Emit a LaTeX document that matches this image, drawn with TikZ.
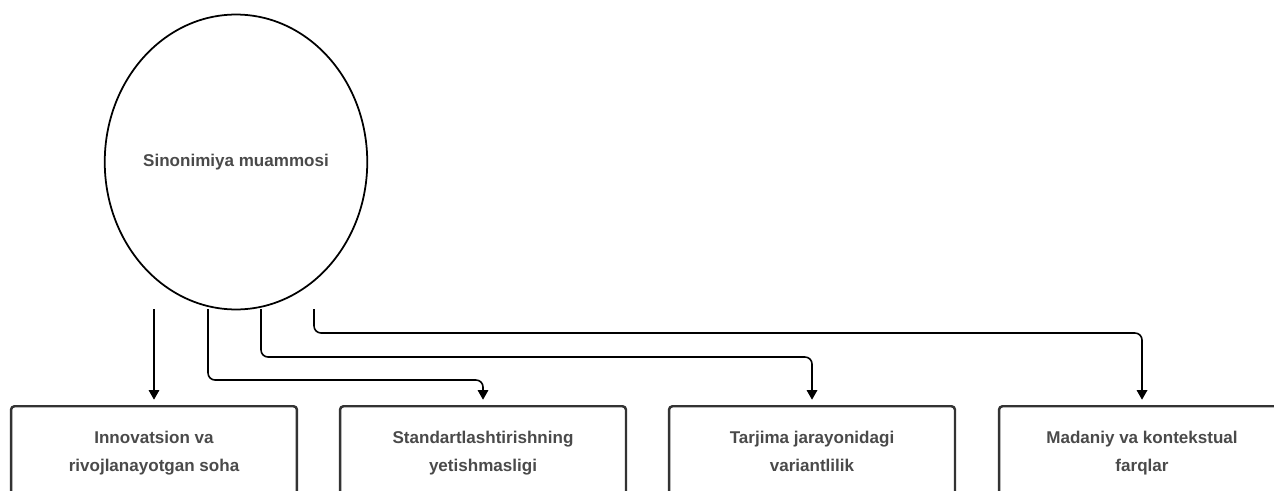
\documentclass[tikz,border=0pt]{standalone}
\usepackage{fontspec}
\setmainfont{Liberation Sans}
\usetikzlibrary{shapes.geometric, arrows.meta}
\definecolor{labelgray}{HTML}{4A4A4A}
\definecolor{framegray}{HTML}{333333}

\begin{document}
\begin{tikzpicture}[x=0.02cm, y=-0.02cm,
    font=\fontsize{9.7}{16}\selectfont\bfseries,
    topic/.style={draw, ellipse, line width=1pt, inner sep=0pt,
      minimum width=5.24cm, minimum height=5.9cm, text=labelgray},
    factor/.style={draw=framegray, line width=1.4pt, rounded corners=2pt,
      anchor=north, align=center, minimum width=5.72cm,
      minimum height=1.84cm, text=labelgray},
    link/.style={line width=0.9pt, rounded corners=4pt,
      -{Triangle[length=5.5pt, width=6pt]}, shorten >=3pt}]
  \useasboundingbox (0,0) rectangle (1274,490);

  \node[topic] (problem) at (236,162) {Sinonimiya muammosi};

  \foreach \i/\x/\txt in {1/154/{Innovatsion va\\rivojlanayotgan soha},
      2/483/{Standartlashtirishning\\yetishmasligi},
      3/812/{Tarjima jarayonidagi\\variantlilik},
      4/1142/{Madaniy va kontekstual\\farqlar}} {
    \node[factor] (b\i) at (\x,405) {\strut\txt\strut};
  }

  % arrows leave just under the circle
  \foreach \i/\x in {1/154, 2/208, 3/261, 4/314} {
    \coordinate (s\i) at (\x,309);
  }

  \draw[link] (s1) -- (b1.north);
  \foreach \i/\y in {2/380, 3/357, 4/333} {
    \draw[link] (s\i) |- (b\i.north |- 0,\y) -- (b\i.north);
  }
\end{tikzpicture}
\end{document}
